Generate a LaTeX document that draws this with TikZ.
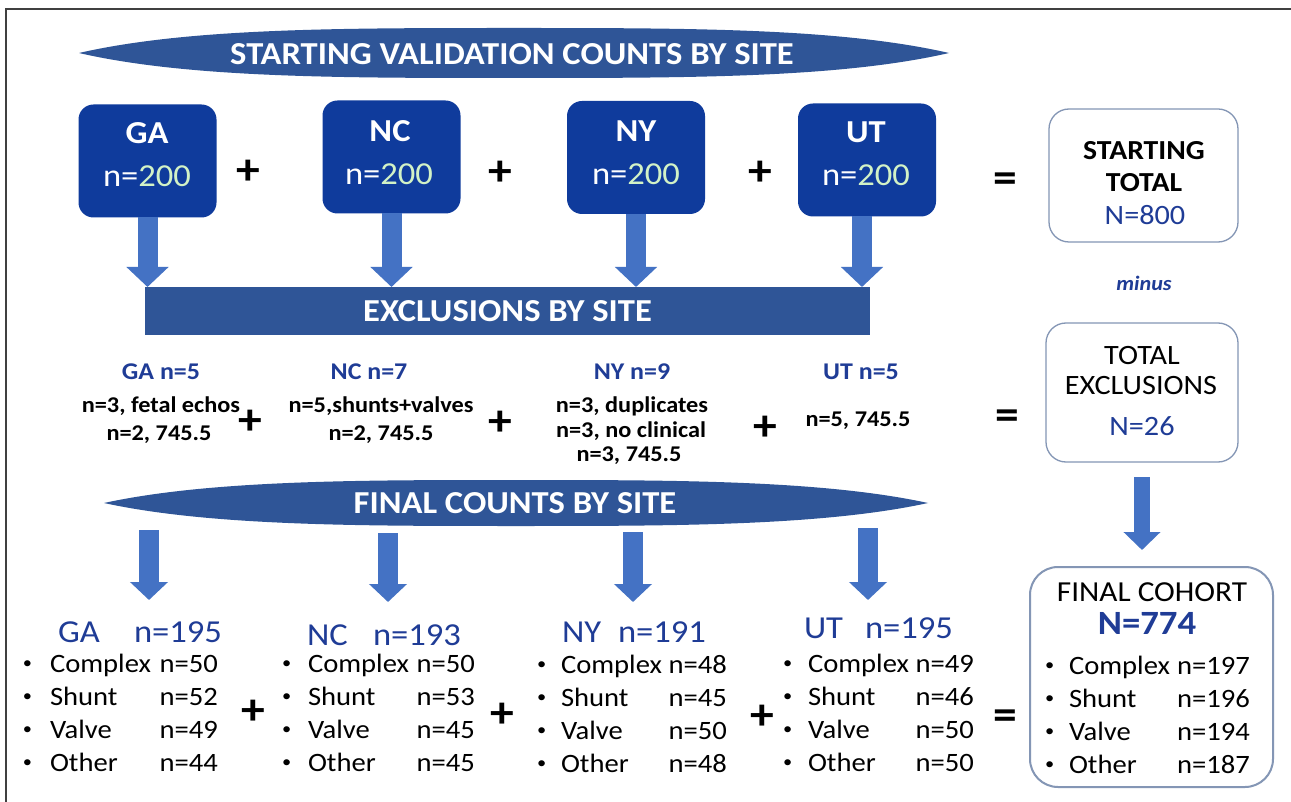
\documentclass[tikz,border=0pt]{standalone}
\usepackage{fontspec}
\setmainfont{Carlito}[FakeStretch=1.08]
\usetikzlibrary{arrows.meta}
\definecolor{ellblue}{HTML}{2F5597}
\definecolor{boxblue}{HTML}{0F3B9C}
\definecolor{arrowblue}{HTML}{4472C4}
\definecolor{txtblue}{HTML}{1F3C96}
\definecolor{greenn}{HTML}{D2F2C6}
\definecolor{borderg}{HTML}{8496B5}
\definecolor{framec}{HTML}{404040}
\newcommand\fs[1]{\fontsize{#1}{#1}\selectfont}
\newcommand\smallbul{\raisebox{3.5pt}{\fontsize{17}{17}\selectfont\textbullet}}
\newcommand\itm[4]{\hbox to #1{\hbox to #2{\smallbul\hss}#3\hfill #4}}
\begin{document}
\begin{tikzpicture}[x=1pt,y=-1pt,
  every node/.style={inner sep=0pt,outer sep=0pt},
  sitebox/.style={fill=boxblue,rounded corners=15pt,minimum width=138pt,minimum height=113pt},
  wbox/.style={draw=borderg,line width=1.3pt,fill=white,rounded corners=20pt},
  boxtitle/.style={text=white,font=\fs{32}\bfseries,anchor=base},
  boxcount/.style={font=\fs{32},anchor=base},
  lenstext/.style={text=white,font=\fs{32}\bfseries,anchor=base},
  sign/.style={font=\fs{44}\bfseries,text=black},
  exhead/.style={text=txtblue,font=\fs{24}\bfseries,anchor=base},
  exline/.style={text=black,font=\fs{22.5}\bfseries,anchor=base},
  wtext/.style={text=black,font=\fs{28},anchor=base},
  wtextb/.style={text=black,font=\fs{27.5}\bfseries,anchor=base},
  wnum/.style={text=txtblue,font=\fs{28},anchor=base},
  sitehead/.style={text=txtblue,font=\fs{32}},
  lst/.style={text=black,font=\fontsize{26.5}{33}\selectfont,anchor=base west},
  blktop/.style={draw=arrowblue,line width=20pt,-{Triangle[width=41pt 0,length=20pt 0]}},
  blkbot/.style={draw=arrowblue,line width=20pt,-{Triangle[width=37pt 0,length=18pt 0]}},
  blkex/.style={draw=arrowblue,line width=16pt,-{Triangle[width=36pt 0,length=18pt 0]}}]
\useasboundingbox (0,0) rectangle (1291,802);
\fill[white] (0,0) rectangle (1291,802);
\draw[framec,line width=2pt] (6,802) -- (6,9) -- (1291,9);

% top lens
\fill[ellblue] (79,53) .. controls (188,28) and (340,28) .. (514,28)
  .. controls (688,28) and (840,28) .. (949,53)
  .. controls (840,78) and (688,78) .. (514,78)
  .. controls (340,78) and (188,78) .. (79,53) -- cycle;
\node[lenstext] (t1) at (512,65) {STARTING VALIDATION COUNTS BY SITE};

% site boxes
\node[sitebox] (ga) at (147.5,161) {};
\node[sitebox] (nc) at (391.5,157) {};
\node[sitebox] (ny) at (636,157.5) {};
\node[sitebox] (ut) at (867,160) {};
\node[boxtitle] (gat) at (147,144) {GA};
\node[boxtitle] (nct) at (390,142) {NC};
\node[boxtitle] (nyt) at (636,142) {NY};
\node[boxtitle] (utt) at (866,143) {UT};
\node[boxcount] (gac) at (147,187) {\textcolor{white}{n=}\textcolor{greenn}{200}};
\node[boxcount] (ncc) at (389,185) {\textcolor{white}{n=}\textcolor{greenn}{200}};
\node[boxcount] (nyc) at (636,185) {\textcolor{white}{n=}\textcolor{greenn}{200}};
\node[boxcount] (utc) at (866,186) {\textcolor{white}{n=}\textcolor{greenn}{200}};
\node[sign] (p1) at (248,172) {+};
\node[sign] (p2) at (500,173) {+};
\node[sign] (p3) at (760,173) {+};
\node[sign] (e1) at (1005,183) {=};

% starting total
\node[wbox,minimum width=189pt,minimum height=133pt] (st) at (1143.5,175.5) {};
\node[wtextb] (st1) at (1144,160) {STARTING};
\node[wtextb] (st2) at (1144,192) {TOTAL};
\node[wnum] (st3) at (1145,225) {N=800};
\node[text=txtblue,font=\fs{20.5}\bfseries\itshape] (minus) at (1144,283) {minus};

% exclusions bar
\node[fill=ellblue,minimum width=725pt,minimum height=48pt,text=white,font=\fs{32}\bfseries] (excl) at (507.5,311) {EXCLUSIONS BY SITE};
\draw[blktop] (ga.south) -- (ga.south |- excl.north);
\draw[blktop] (nc.south) -- (nc.south |- excl.north);
\draw[blktop] (ny.south) -- (ny.south |- excl.north);
\draw[blktop] ([xshift=-5pt]ut.south) -- ([xshift=-5pt]ut.south |- excl.north);

% exclusion details
\node[exhead] (exga) at (161,380) {GA n=5};
\node[exline] (exga1) at (161,413) {n=3, fetal echos};
\node[exline] (exga2) at (159,440) {n=2, 745.5};
\node[exhead] (exnc) at (369,380) {NC n=7};
\node[exline] (exnc1) at (381,413) {n=5,shunts+valves};
\node[exline] (exnc2) at (381,440) {n=2, 745.5};
\node[exhead] (exny) at (632,380) {NY n=9};
\node[exline] (exny1) at (632,413) {n=3, duplicates};
\node[exline] (exny2) at (631,437) {n=3, no clinical};
\node[exline] (exny3) at (629,461) {n=3, 745.5};
\node[exhead] (exut) at (861,380) {UT n=5};
\node[exline] (exut1) at (858,426) {n=5, 745.5};
\node[sign] (p4) at (250,422) {+};
\node[sign] (p5) at (500,423) {+};
\node[sign] (p6) at (765,428) {+};
\node[sign] (e2) at (1007,420) {=};

% total exclusions
\node[wbox,minimum width=192pt,minimum height=139pt] (tex) at (1142,392.5) {};
\node[wtext] (tex1) at (1142,365) {TOTAL};
\node[wtext] (tex2) at (1141,395) {EXCLUSIONS};
\node[wnum] (tex3) at (1142,435) {N=26};

% final lens
\fill[ellblue] (104,503) .. controls (210,480) and (360,480) .. (516,480)
  .. controls (672,480) and (822,480) .. (928,503)
  .. controls (822,526) and (672,526) .. (516,526)
  .. controls (360,526) and (210,526) .. (104,503) -- cycle;
\node[lenstext] (t2) at (515,513) {FINAL COUNTS BY SITE};

% lower arrows
\coordinate (a1s) at (149,530); \coordinate (a1e) at (149,600);
\coordinate (a2s) at (388,533); \coordinate (a2e) at (388,602);
\coordinate (a3s) at (633,532); \coordinate (a3e) at (633,602);
\coordinate (a4s) at (868,528); \coordinate (a4e) at (868,600);
\draw[blkbot] (a1s) -- (a1e);
\draw[blkbot] (a2s) -- (a2e);
\draw[blkbot] (a3s) -- (a3e);
\draw[blkbot] (a4s) -- (a4e);

% final cohort
\node[wbox,draw=borderg,line width=2pt,rounded corners=28pt,minimum width=243pt,minimum height=220pt] (fc) at (1151.5,677) {};
\draw[blkex,shorten <=15pt,shorten >=17pt] (tex.south) -- (tex.south |- fc.north);
\node[wtext,font=\fs{29}] (fc1) at (1152,601) {FINAL COHORT};
\node[text=txtblue,font=\fs{34}\bfseries,anchor=base] (fc2) at (1147,634) {N=774};
\node[lst] (fcl) at (1045,674) {\begin{tabular}[t]{@{}l@{}}
\itm{205pt}{24pt}{Complex}{n=197}\\
\itm{205pt}{24pt}{Shunt}{n=196}\\
\itm{205pt}{24pt}{Valve}{n=194}\\
\itm{205pt}{24pt}{Other}{n=187}\end{tabular}};

% site headers
\node[sitehead,anchor=base west] (gh1) at (58,642) {GA};
\node[sitehead,anchor=base east] (gh2) at (222,642) {n=195};
\node[sitehead,anchor=base west] (nh1) at (307,645) {NC};
\node[sitehead,anchor=base east] (nh2) at (461,645) {n=193};
\node[sitehead,anchor=base west] (yh1) at (562,642) {NY};
\node[sitehead,anchor=base east] (yh2) at (706,642) {n=191};
\node[sitehead,anchor=base west] (uh1) at (804,638) {UT};
\node[sitehead,anchor=base east] (uh2) at (953,638) {n=195};

% site lists
\node[lst] (gal) at (23,672) {\begin{tabular}[t]{@{}l@{}}
\itm{195pt}{27pt}{Complex}{n=50}\\
\itm{195pt}{27pt}{Shunt}{n=52}\\
\itm{195pt}{27pt}{Valve}{n=49}\\
\itm{195pt}{27pt}{Other}{n=44}\end{tabular}};
\node[lst] (ncl) at (282,672) {\begin{tabular}[t]{@{}l@{}}
\itm{193pt}{26pt}{Complex}{n=50}\\
\itm{193pt}{26pt}{Shunt}{n=53}\\
\itm{193pt}{26pt}{Valve}{n=45}\\
\itm{193pt}{26pt}{Other}{n=45}\end{tabular}};
\node[lst] (nyl) at (537,673) {\begin{tabular}[t]{@{}l@{}}
\itm{190pt}{24pt}{Complex}{n=48}\\
\itm{190pt}{24pt}{Shunt}{n=45}\\
\itm{190pt}{24pt}{Valve}{n=50}\\
\itm{190pt}{24pt}{Other}{n=48}\end{tabular}};
\node[lst] (utl) at (783,672) {\begin{tabular}[t]{@{}l@{}}
\itm{191pt}{25pt}{Complex}{n=49}\\
\itm{191pt}{25pt}{Shunt}{n=46}\\
\itm{191pt}{25pt}{Valve}{n=50}\\
\itm{191pt}{25pt}{Other}{n=50}\end{tabular}};
\node[sign] (p7) at (253,712) {+};
\node[sign] (p8) at (502,715) {+};
\node[sign] (p9) at (762,717) {+};
\node[sign] (e3) at (1005,720) {=};
\end{tikzpicture}
\end{document}
